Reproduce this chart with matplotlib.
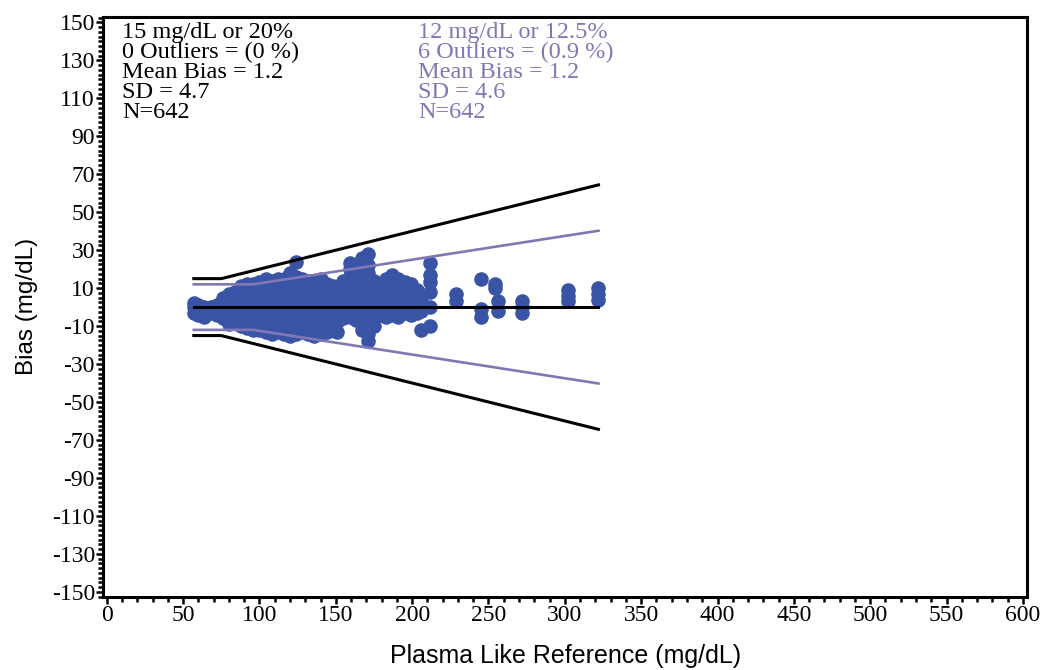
import numpy as np
import matplotlib.pyplot as plt
from matplotlib.ticker import MultipleLocator

plt.rcParams['axes.unicode_minus'] = False

# reference glucose levels (mg/dL) and the meter bias readings found at each level
ref_levels = [57, 60, 64, 68, 72, 76, 80, 84, 88, 92, 96, 100, 104, 108, 112, 116,
              120, 124, 128, 132, 136, 140, 144, 148, 151, 155, 159, 163, 167, 171,
              175, 179, 183, 187, 191, 195, 199, 203, 206, 212, 229, 245, 254, 256,
              272, 302, 322]
bias_at_level = [
    [-3, 0, 2],
    [-4, -1, 1],
    [-5, -2, 0],
    [-3, 0],
    [-4, 1],
    [-6, -2, 2, 5],
    [-9, -5, -1, 3, 7],
    [-8, -4, 0, 4, 8],
    [-10, -6, -2, 2, 6, 11],
    [-11, -7, -3, 1, 5, 9, 12],
    [-12, -8, -4, 0, 4, 8, 12],
    [-12, -8, -3, 1, 5, 9, 13],
    [-13, -9, -5, -1, 3, 7, 11, 15],
    [-14, -10, -6, -2, 2, 6, 10, 14],
    [-13, -9, -4, 0, 4, 8, 12, 15],
    [-14, -10, -6, -2, 3, 7, 11, 15],
    [-15, -11, -7, -3, 1, 5, 9, 13, 18],
    [-14, -10, -5, -1, 3, 7, 11, 16, 24],
    [-13, -9, -5, -1, 4, 8, 12, 15],
    [-14, -10, -6, -2, 2, 6, 10, 14],
    [-15, -11, -7, -3, 1, 5, 9, 13],
    [-14, -10, -6, -2, 3, 7, 11, 15],
    [-13, -9, -5, -1, 3, 7, 12],
    [-12, -8, -4, 0, 4, 8, 11],
    [-13, -8, -3, 2, 6, 10],
    [-6, -2, 2, 6, 10, 14],
    [-5, -1, 3, 7, 11, 16, 20, 23],
    [-7, -3, 1, 5, 9, 13],
    [-12, -8, -4, 0, 4, 8, 12, 16, 21, 26],
    [-18, -14, -10, -6, -2, 2, 6, 10, 14, 18, 22, 28],
    [-10, -6, -2, 2, 6, 10, 14],
    [-4, 0, 4, 8, 12],
    [-5, -1, 3, 7, 11, 15],
    [-4, 0, 4, 8, 12, 17],
    [-5, -1, 3, 7, 11, 15],
    [-3, 1, 5, 9, 13],
    [-4, 0, 4, 8, 12],
    [-3, 1, 5, 9],
    [-12, -2, 3],
    [-10, 0, 8, 13, 17, 23],
    [3, 7],
    [-5, -1, 15],
    [10, 12],
    [-2, 3],
    [-3, 0, 3],
    [3, 6, 9],
    [4, 7, 10],
]

# accuracy limits: (mg/dL floor, fraction above it)
wide_limit = (15, 0.20)
narrow_limit = (12, 0.125)
ref_min, ref_max = 57, 322

wide_stats = ["15 mg/dL or 20%", "0 Outliers = (0 %)", "Mean Bias = 1.2", "SD = 4.7", "N=642"]
narrow_stats = ["12 mg/dL or 12.5%", "6 Outliers = (0.9 %)", "Mean Bias = 1.2", "SD = 4.6", "N=642"]

x_ticks = np.arange(0, 601, 50)
y_ticks = np.arange(-150, 151, 20)

BLUE = '#3a54a5'
PURPLE = '#8078b5'

ref = np.concatenate([[r] * len(b) for r, b in zip(ref_levels, bias_at_level)])
bias = np.concatenate(bias_at_level)


def limit_path(floor, frac):
    knee = floor / frac
    xs = np.array([ref_min, knee, ref_max])
    return xs, np.maximum(floor, frac * xs)


fig = plt.figure(figsize=(10.43, 6.70), dpi=100)
ax = fig.add_axes([0.099, 0.1094, 0.8857, 0.8656])

ax.scatter(ref, bias, s=110, color=BLUE, linewidths=0, zorder=2)

for (floor, frac), col, lw in [(wide_limit, 'black', 2.2), (narrow_limit, PURPLE, 1.9)]:
    xs, ys = limit_path(floor, frac)
    ax.plot(xs, ys, color=col, lw=lw, zorder=3)
    ax.plot(xs, -ys, color=col, lw=lw, zorder=3)
ax.plot([ref_min, ref_max], [0, 0], color='black', lw=2.2, zorder=4)

ax.set_xlim(-2.3, 602.7)
ax.set_ylim(-152.6, 153)
ax.set_xticks(x_ticks)
ax.set_yticks(y_ticks)
ax.xaxis.set_minor_locator(MultipleLocator(10))
ax.yaxis.set_minor_locator(MultipleLocator(2.5))
ax.tick_params(which='both', direction='out', width=1.8, labelsize=17,
               labelfontfamily='Liberation Serif')
ax.tick_params(which='major', length=5, pad=1)
ax.tick_params(which='minor', length=3.5)
for sp in ax.spines.values():
    sp.set_linewidth(2.2)

ax.set_xlabel('Plasma Like Reference (mg/dL)', fontsize=18, family='Liberation Sans', labelpad=13)
ax.set_ylabel('Bias (mg/dL)', fontsize=17.5, family='Liberation Sans', labelpad=10)

line_y = [141.9, 131.3, 120.8, 110.3, 99.7]
for s, y in zip(wide_stats, line_y):
    ax.text(10, y, s, fontsize=17.5, family='Liberation Serif', color='black', va='baseline')
for s, y in zip(narrow_stats, line_y):
    ax.text(204, y, s, fontsize=17.5, family='Liberation Serif', color=PURPLE, va='baseline')

fig.savefig('out.png', dpi=100)
